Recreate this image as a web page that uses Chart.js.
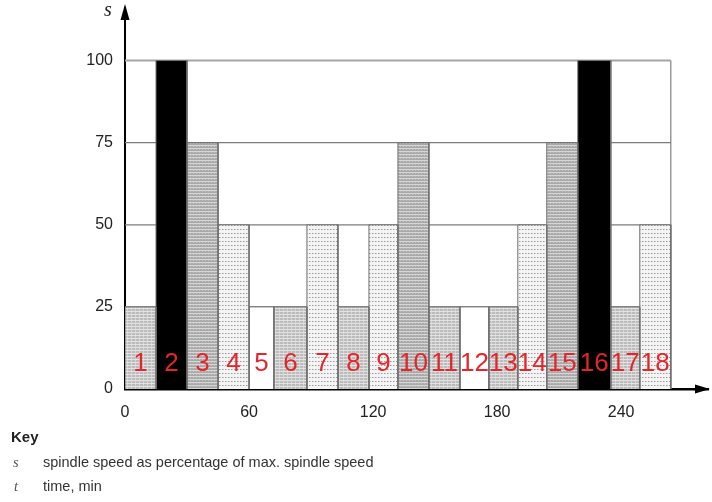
<!DOCTYPE html>
<html>
<head>
<meta charset="utf-8">
<script src="https://cdn.jsdelivr.net/npm/chart.js@4.4.1/dist/chart.umd.min.js"></script>
<style>
  html, body { margin: 0; padding: 0; background: #fff; }
  #wrap { position: relative; width: 712px; height: 502px; font-family: "Liberation Sans", Arial, sans-serif; }
  #chart { position: absolute; left: 0; top: 0; }
  .txt { position: absolute; color: #333; font-size: 14.5px; white-space: nowrap; }
  .sym { font-family: "Liberation Serif", serif; font-style: italic; color: #555; }
</style>
</head>
<body>
<div id="wrap">
  <canvas id="chart" width="712" height="502"></canvas>
  <div class="txt sym" style="left:104px; top:-2px; font-size:20px; color:#222;">s</div>
  <div class="txt" style="left:11px; top:428px; font-size:15px; font-weight:bold; color:#222;">Key</div>
  <div class="txt sym" style="left:13px; top:454px;">s</div>
  <div class="txt" style="left:43px; top:454px;">spindle speed as percentage of max. spindle speed</div>
  <div class="txt sym" style="left:14px; top:478px;">t</div>
  <div class="txt" style="left:43px; top:478px;">time, min</div>
</div>
<script>
// ----- datos -----
const segmentLabels = ['1','2','3','4','5','6','7','8','9','10','11','12','13','14','15','16','17','18'];
// bordes de cada tramo en minutos (19 bordes para 18 tramos)
const segmentEdges = [0, 15, 30, 45, 60, 72, 88, 103, 118, 132, 147, 162, 176, 190, 204, 219, 235, 249, 264];
// velocidad del husillo en % de la máxima
const speedPercent = [25, 100, 75, 50, 25, 25, 50, 25, 50, 75, 25, 25, 25, 50, 75, 100, 25, 50];
const xTicks = [0, 60, 120, 180, 240];
const yTicks = [0, 25, 50, 75, 100];

// tramos dibujados sin trama
const plainSegments = ['5', '12'];

// ----- tramas -----
function makePattern(w, h, draw) {
  const c = document.createElement('canvas');
  c.width = w; c.height = h;
  const g = c.getContext('2d');
  draw(g);
  return g.createPattern(c, 'repeat');
}

const ctx = document.getElementById('chart').getContext('2d');

const patterns = {
  dense: makePattern(4, 3, g => {
    g.fillStyle = '#bcbcbc'; g.fillRect(0, 0, 4, 3);
    g.fillStyle = '#e2e2e2'; g.fillRect(0, 2, 4, 1);
    g.fillStyle = '#d4d4d4'; g.fillRect(3, 0, 1, 2);
  }),
  stripes: makePattern(3, 3, g => {
    g.fillStyle = '#a9a9a9'; g.fillRect(0, 0, 3, 3);
    g.fillStyle = '#d6d6d6'; g.fillRect(0, 1, 3, 1);
    g.fillStyle = '#c2c2c2'; g.fillRect(1, 2, 1, 1);
  }),
  dots: makePattern(3, 4, g => {
    g.fillStyle = '#f4f4f4'; g.fillRect(0, 0, 3, 4);
    g.fillStyle = '#9a9a9a'; g.fillRect(0, 1, 1, 1);
    g.fillStyle = '#c8c8c8'; g.fillRect(1, 1, 1, 1);
  })
};

function fillFor(label, speed) {
  if (plainSegments.includes(label)) return '#ffffff';
  if (speed >= 100) return '#000000';
  if (speed >= 75) return patterns.stripes;
  if (speed >= 50) return patterns.dots;
  return patterns.dense;
}

const tEnd = segmentEdges[segmentEdges.length - 1];

// líneas horizontales de referencia y borde derecho
const gridSets = yTicks.filter(v => v > 0).map(v => ({
  data: [{ x: 0, y: v }, { x: tEnd, y: v }],
  borderColor: v === 100 ? '#a6a6a6' : '#7c7c7c',
  borderWidth: v === 100 ? 2 : 1.3,
  fill: false,
  order: 3
}));
gridSets.push({
  data: [{ x: tEnd, y: 0 }, { x: tEnd, y: yTicks[yTicks.length - 1] }],
  borderColor: '#8a8a8a',
  borderWidth: 1.3,
  fill: false,
  order: 3
});

// cada tramo como rectángulo relleno
const segmentSets = segmentLabels.map((label, i) => {
  const s = segmentEdges[i], e = segmentEdges[i + 1], h = speedPercent[i];
  return {
    label: label,
    data: [{ x: s, y: 0 }, { x: s, y: h }, { x: e, y: h }, { x: e, y: 0 }],
    backgroundColor: fillFor(label, h),
    borderColor: '#707070',
    borderWidth: 1,
    fill: 'origin',
    order: 1
  };
});

// números rojos dentro de cada tramo
const labelPlugin = {
  id: 'segmentNumbers',
  afterDatasetsDraw(chart) {
    const g = chart.ctx, xs = chart.scales.x, ys = chart.scales.y;
    g.save();
    g.fillStyle = '#e3262b';
    g.font = '26px "Liberation Sans", Arial, sans-serif';
    g.textAlign = 'center';
    g.textBaseline = 'middle';
    segmentLabels.forEach((label, i) => {
      const cx = xs.getPixelForValue((segmentEdges[i] + segmentEdges[i + 1]) / 2);
      g.fillText(label, cx, ys.getPixelForValue(0) - 25);
    });
    g.restore();
  }
};

// flechas de los ejes
const arrowPlugin = {
  id: 'axisArrows',
  afterDraw(chart) {
    const g = chart.ctx, a = chart.chartArea;
    g.save();
    g.fillStyle = '#000';
    g.beginPath();
    g.moveTo(a.left, a.top - 4);
    g.lineTo(a.left - 4.5, a.top + 12);
    g.lineTo(a.left + 4.5, a.top + 12);
    g.closePath();
    g.fill();
    g.beginPath();
    g.moveTo(a.right + 2, a.bottom);
    g.lineTo(a.right - 13, a.bottom - 4.5);
    g.lineTo(a.right - 13, a.bottom + 4.5);
    g.closePath();
    g.fill();
    g.restore();
  }
};

new Chart(ctx, {
  type: 'line',
  data: { datasets: [...segmentSets, ...gridSets] },
  options: {
    responsive: false,
    animation: false,
    layout: { padding: { top: 8, right: 4, left: 0, bottom: 0 } },
    elements: {
      point: { radius: 0, hoverRadius: 0 },
      line: { tension: 0 }
    },
    plugins: {
      legend: { display: false },
      tooltip: { enabled: false }
    },
    scales: {
      x: {
        type: 'linear',
        min: 0,
        max: 282,
        afterFit: s => { s.height = 113; s.paddingLeft = 0; s.paddingRight = 0; },
        afterBuildTicks: s => { s.ticks = xTicks.map(v => ({ value: v })); },
        grid: { display: false, drawTicks: false },
        border: { display: true, color: '#000', width: 2.5 },
        ticks: {
          padding: 14,
          color: '#222',
          font: { family: '"Liberation Sans", Arial, sans-serif', size: 16 },
          maxRotation: 0
        }
      },
      y: {
        type: 'linear',
        min: 0,
        max: 116,
        afterFit: s => { s.width = 125; s.paddingTop = 0; s.paddingBottom = 0; },
        afterBuildTicks: s => { s.ticks = yTicks.map(v => ({ value: v })); },
        grid: { display: false, drawTicks: false },
        border: { display: true, color: '#000', width: 2 },
        ticks: {
          padding: 12,
          color: '#222',
          font: { family: '"Liberation Sans", Arial, sans-serif', size: 16 }
        }
      }
    }
  },
  plugins: [labelPlugin, arrowPlugin]
});
</script>
</body>
</html>
